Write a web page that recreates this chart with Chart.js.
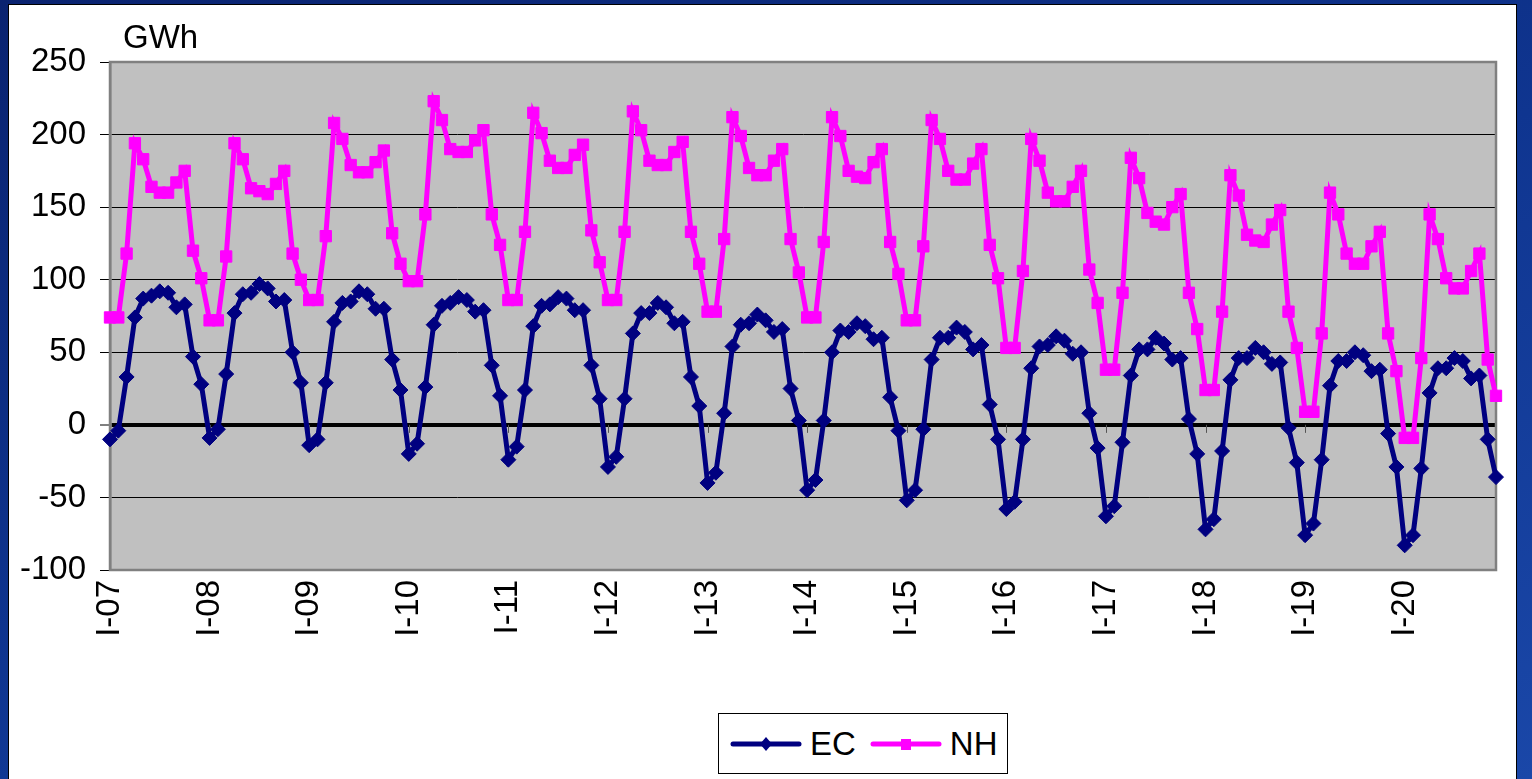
<!DOCTYPE html>
<html>
<head>
<meta charset="utf-8">
<script src="https://cdn.jsdelivr.net/npm/chart.js@4.4.1/dist/chart.umd.min.js"></script>
<style>
html,body{margin:0;padding:0;}
body{width:1532px;height:779px;overflow:hidden;position:relative;
  background:linear-gradient(160deg,#0a2370 0%,#0f3590 50%,#1a47a8 100%);
  font-family:"Liberation Sans",Arial,sans-serif;}
#panel{position:absolute;left:8px;top:4px;width:1509px;height:780px;background:#fff;border:1px solid #000;box-sizing:border-box;}
#wrap{position:absolute;left:0;top:0;width:1532px;height:779px;}
#unit{position:absolute;left:123px;top:20px;font-size:33px;line-height:33px;color:#000;}
#legend{position:absolute;left:718px;top:713px;width:290px;height:61px;border:1px solid #000;box-sizing:border-box;
  display:flex;align-items:center;padding-left:11px;background:#fff;}
#legend .item{display:flex;align-items:center;margin-right:14px;font-size:33px;color:#000;}
#legend canvas{margin-right:8px;}
</style>
</head>
<body>
<div id="panel"></div>
<div id="wrap"><canvas id="c" width="1532" height="779"></canvas></div>
<div id="unit">GWh</div>
<div id="legend"></div>
<script>
// ---- data ----
const years = ['07','08','09','10','11','12','13','14','15','16','17','18','19','20'];
const months = ['I','II','III','IV','V','VI','VII','VIII','IX','X','XI','XII'];
const yTicks = [-100,-50,0,50,100,150,200,250];
const seriesNames = ['EC','NH'];

const EC = [
  -10, -4, 33, 74, 87, 89, 92, 91, 81, 83, 47, 28,   // 2007
   -9, -3, 35, 77, 90, 91, 97, 94, 85, 86, 50, 29,   // 2008
  -14,-10, 29, 71, 84, 85, 92, 90, 80, 80, 45, 24,   // 2009
  -20,-13, 26, 69, 82, 84, 88, 86, 78, 79, 41, 20,   // 2010
  -24,-15, 24, 68, 82, 83, 88, 87, 79, 79, 41, 18,   // 2011
  -29,-22, 18, 63, 77, 77, 84, 81, 70, 71, 33, 13,   // 2012
  -40,-33,  8, 54, 69, 70, 76, 72, 64, 66, 25,  3,   // 2013
  -45,-38,  3, 50, 65, 64, 70, 68, 59, 60, 19, -4,   // 2014
  -52,-45, -3, 45, 60, 60, 67, 64, 52, 55, 14,-10,   // 2015
  -58,-53,-10, 39, 54, 55, 61, 58, 49, 50,  8,-16,   // 2016
  -63,-56,-12, 34, 52, 52, 60, 56, 45, 46,  4,-20,   // 2017
  -72,-65,-18, 31, 46, 46, 53, 50, 42, 43, -2,-26,   // 2018
  -76,-68,-24, 27, 44, 44, 50, 48, 37, 38, -6,-29,   // 2019
  -83,-76,-30, 22, 39, 39, 46, 44, 32, 34,-10,-36    // 2020
];
const NH = [
   74, 74,118,194,183,164,160,160,167,175,120,101,   // 2007
   72, 72,116,194,183,163,161,159,166,175,118,100,   // 2008
   86, 86,130,208,197,179,174,174,181,189,132,111,   // 2009
   99, 99,145,223,210,190,188,188,196,203,145,124,   // 2010
   86, 86,133,215,201,182,177,177,186,193,134,112,   // 2011
   86, 86,133,216,203,182,179,179,188,195,133,111,   // 2012
   78, 78,128,212,199,177,172,172,182,190,128,105,   // 2013
   74, 74,126,212,199,175,171,170,181,190,126,104,   // 2014
   72, 72,123,210,197,175,169,169,180,190,124,101,   // 2015
   53, 53,106,197,182,160,154,154,164,175,107, 84,   // 2016
   38, 38, 91,184,170,146,140,138,150,159, 91, 66,   // 2017
   24, 24, 78,172,158,131,127,126,138,148, 78, 53,   // 2018
    9,  9, 63,160,145,118,111,111,123,133, 63, 37,   // 2019
   -9, -9, 46,145,128,101, 94, 94,106,118, 45, 20    // 2020
];

const categories = [];
years.forEach(y => months.forEach(m => categories.push(m + '-' + y)));

const FONT = {family:'"Liberation Sans", Arial, sans-serif', size:33};

const plotFrame = {
  id:'plotFrame',
  beforeDraw(chart){
    const {ctx, chartArea:a} = chart;
    ctx.save();
    ctx.fillStyle = '#C0C0C0';
    ctx.fillRect(a.left, a.top, a.right - a.left, a.bottom - a.top);
    ctx.restore();
  },
  beforeDatasetsDraw(chart){
    const {ctx, chartArea:a, scales} = chart;
    ctx.save();
    const y0 = scales.y.getPixelForValue(0);
    ctx.strokeStyle = '#555';
    ctx.lineWidth = 1;
    for (let i = 0; i < categories.length; i += 12) {
      const x = Math.round(scales.x.getPixelForValue(i)) + 0.5;
      ctx.beginPath(); ctx.moveTo(x, y0); ctx.lineTo(x, y0 + 8); ctx.stroke();
    }
    ctx.strokeStyle = '#808080';
    ctx.lineWidth = 2.5;
    ctx.strokeRect(a.left, a.top, a.right - a.left, a.bottom - a.top);
    ctx.restore();
  }
};

const chart = new Chart(document.getElementById('c'), {
  type:'line',
  data:{
    labels:categories,
    datasets:[
      {label:seriesNames[0], data:EC, borderColor:'#000080', backgroundColor:'#000080',
       borderWidth:5, pointStyle:'rectRot', pointRadius:7.5, pointBorderWidth:1,
       pointBackgroundColor:'#000080', pointBorderColor:'#000080', tension:0, clip:false},
      {label:seriesNames[1], data:NH, borderColor:'#FF00FF', backgroundColor:'#FF00FF',
       borderWidth:5, pointStyle:'rect', pointRadius:8, pointBorderWidth:1,
       pointBackgroundColor:'#FF00FF', pointBorderColor:'#FF00FF', tension:0, clip:false}
    ]
  },
  options:{
    responsive:false, animation:false, devicePixelRatio:1,
    layout:{padding:{top:62, right:36, left:0, bottom:0}},
    plugins:{legend:{display:false}, tooltip:{enabled:false}, title:{display:false}},
    scales:{
      x:{
        type:'category', offset:false,
        grid:{display:false, drawTicks:false},
        border:{display:false},
        ticks:{autoSkip:false, maxRotation:90, minRotation:90, padding:10, color:'#000', font:FONT,
          callback(v, i){ return i % 12 === 0 ? this.getLabelForValue(v) : ''; }},
        afterFit(s){ s.height = 209; s.paddingLeft = 0; s.paddingRight = 0; }
      },
      y:{
        min:yTicks[0], max:yTicks[yTicks.length-1],
        afterBuildTicks(s){ s.ticks = yTicks.map(v => ({value:v})); },
        ticks:{color:'#000', font:FONT, padding:14},
        grid:{
          color:c => c.tick && c.tick.value === 250 ? '#808080' : '#000',
          lineWidth:c => c.tick && c.tick.value === 0 ? 4 : 1,
          drawTicks:true, tickLength:10, tickColor:'#000', tickWidth:1
        },
        border:{display:true, color:'#808080', width:2.5},
        afterFit(s){ s.width = 110; s.paddingTop = 0; s.paddingBottom = 0; }
      }
    }
  },
  plugins:[plotFrame]
});

// HTML legend built from the chart's datasets
(function(){
  const lg = document.getElementById('legend');
  chart.data.datasets.forEach(ds => {
    const item = document.createElement('div'); item.className = 'item';
    const cv = document.createElement('canvas'); cv.width = 72; cv.height = 20;
    const g = cv.getContext('2d');
    g.strokeStyle = ds.borderColor; g.lineWidth = 5; g.lineCap = 'round';
    g.beginPath(); g.moveTo(3, 10); g.lineTo(69, 10); g.stroke();
    g.fillStyle = ds.pointBackgroundColor;
    if (ds.pointStyle === 'rectRot') {
      g.beginPath(); g.moveTo(36, 3); g.lineTo(42, 10); g.lineTo(36, 17); g.lineTo(30, 10); g.closePath(); g.fill();
    } else {
      g.fillRect(31, 5, 10, 11);
    }
    const t = document.createElement('span'); t.textContent = ds.label;
    item.appendChild(cv); item.appendChild(t); lg.appendChild(item);
  });
})();
</script>
</body>
</html>
